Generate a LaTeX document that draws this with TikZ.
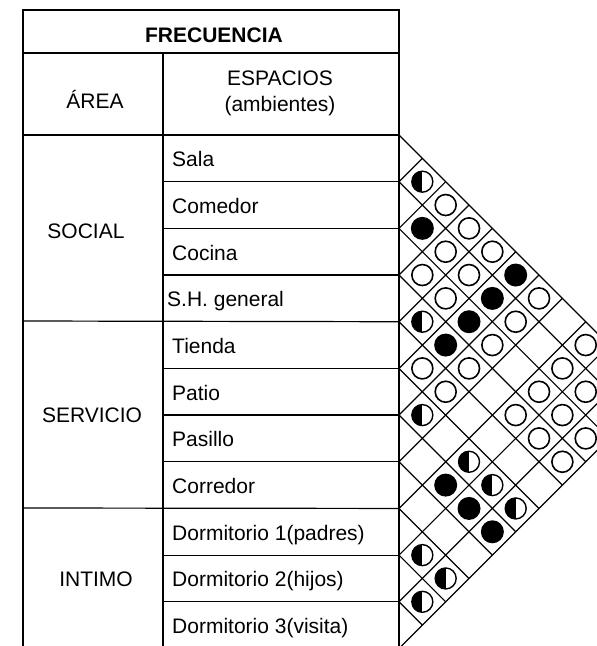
\documentclass[tikz,border=0pt]{standalone}
\usepackage{fontspec}
\setmainfont{Liberation Sans}

\begin{document}
\begin{tikzpicture}[x=1pt, y=-1pt,
		line/.style={black, line width=1.2pt},
		txt/.style={inner sep=0pt, font=\fontsize{21}{26}\selectfont},
		rowlabel/.style={txt, anchor=base west},
		fulldot/.style={circle, fill=black, minimum size=23pt, inner sep=0pt},
		opendot/.style={circle, draw=black, line width=1.6pt, fill=white, minimum size=21pt, inner sep=0pt},
		halfdot/.style={circle, draw=black, line width=1.4pt, fill=white, minimum size=21pt, inner sep=0pt,
			path picture={\fill[black] (path picture bounding box.north west) rectangle (path picture bounding box.south);}}
		]
		
		% 画布范围
		\useasboundingbox (0,0) rectangle (597,646);
		\clip (0,0) rectangle (597,646);
		
		% 行线坐标（右边界上）
		\foreach \k in {0,...,11}
		\coordinate (r\k) at (399,{135+46.68*\k});
		
		% 表格（黑色）
		\draw[line] (23,660) -- (23,10) -- (399,10) -- (399,660);
		\draw[line] (23,53) -- (399,53);
		\draw[line] (163,53) -- (163,660);
		\draw[line] (23,135) -- (r0);
		\draw[line] (23,321) -- (r4);
		\draw[line] (23,508) -- (r8);
		\foreach \k in {1,2,3,5,6,7,9,10}
		\draw[line] (163,{135+46.68*\k}) -- (r\k);
		
		% 菱形网格
		\foreach \k in {0,...,10}
		\draw[line] (r\k) -- ++({(11-\k)*23.34},{(11-\k)*23.34});
		\foreach \k in {1,...,11}
		\draw[line] (r\k) -- ++({\k*23.34},{-\k*23.34});
		
		% 表头
		\node[txt, font=\fontsize{21}{26}\selectfont\bfseries, anchor=base] (frec) at (214,42) {FRECUENCIA};
		\node[txt, anchor=base] (area) at (95,108) {ÁREA};
		\node[txt, anchor=base] (esp) at (280,85) {ESPACIOS};
		\node[txt, anchor=base] (amb) at (280,111) {(ambientes)};
		
		% 区域
		\node[txt] (social) at (86,231) {SOCIAL};
		\node[txt] (servicio) at (92,415) {SERVICIO};
		\node[txt] (intimo) at (96,579) {INTIMO};
		
		% 空间名称
		\node[rowlabel] (sala) at (172,166.5) {Sala};
		\node[rowlabel] (comedor) at (172,213) {Comedor};
		\node[rowlabel] (cocina) at (172,260) {Cocina};
		\node[rowlabel] (sh) at (167,306.5) {S.H. general};
		\node[rowlabel] (tienda) at (172,353) {Tienda};
		\node[rowlabel] (patio) at (172,400) {Patio};
		\node[rowlabel] (pasillo) at (172,446.5) {Pasillo};
		\node[rowlabel] (corredor) at (172,493) {Corredor};
		\node[rowlabel] (dorm1) at (172,540) {Dormitorio 1(padres)};
		\node[rowlabel] (dorm2) at (172,586.5) {Dormitorio 2(hijos)};
		\node[rowlabel] (dorm3) at (172,633) {Dormitorio 3(visita)};
		
		% 关系符号
		\foreach \i/\j/\s in {0/1/halfdot, 1/2/fulldot, 2/3/opendot, 3/4/halfdot, 4/5/opendot, 5/6/halfdot, 8/9/halfdot, 9/10/halfdot,
			0/2/opendot, 1/3/opendot, 2/4/opendot, 3/5/fulldot, 4/6/opendot, 6/8/fulldot, 8/10/halfdot,
			0/3/opendot, 1/4/opendot, 2/5/fulldot, 3/6/opendot, 5/8/halfdot, 6/9/fulldot,
			0/4/opendot, 1/5/fulldot, 2/6/opendot, 5/9/halfdot, 6/10/fulldot,
			0/5/fulldot, 1/6/opendot, 3/8/opendot, 5/10/halfdot,
			0/6/opendot, 2/8/opendot, 3/9/opendot,
			1/8/opendot, 2/9/opendot, 3/10/opendot,
			0/8/opendot, 1/9/opendot, 2/10/opendot,
			0/9/opendot, 1/10/opendot}
		\node[\s] (c\i-\j) at ({399+(\j-\i)*23.34},{135+(\i+\j+1)*23.34}) {};
		
	\end{tikzpicture}
\end{document}
